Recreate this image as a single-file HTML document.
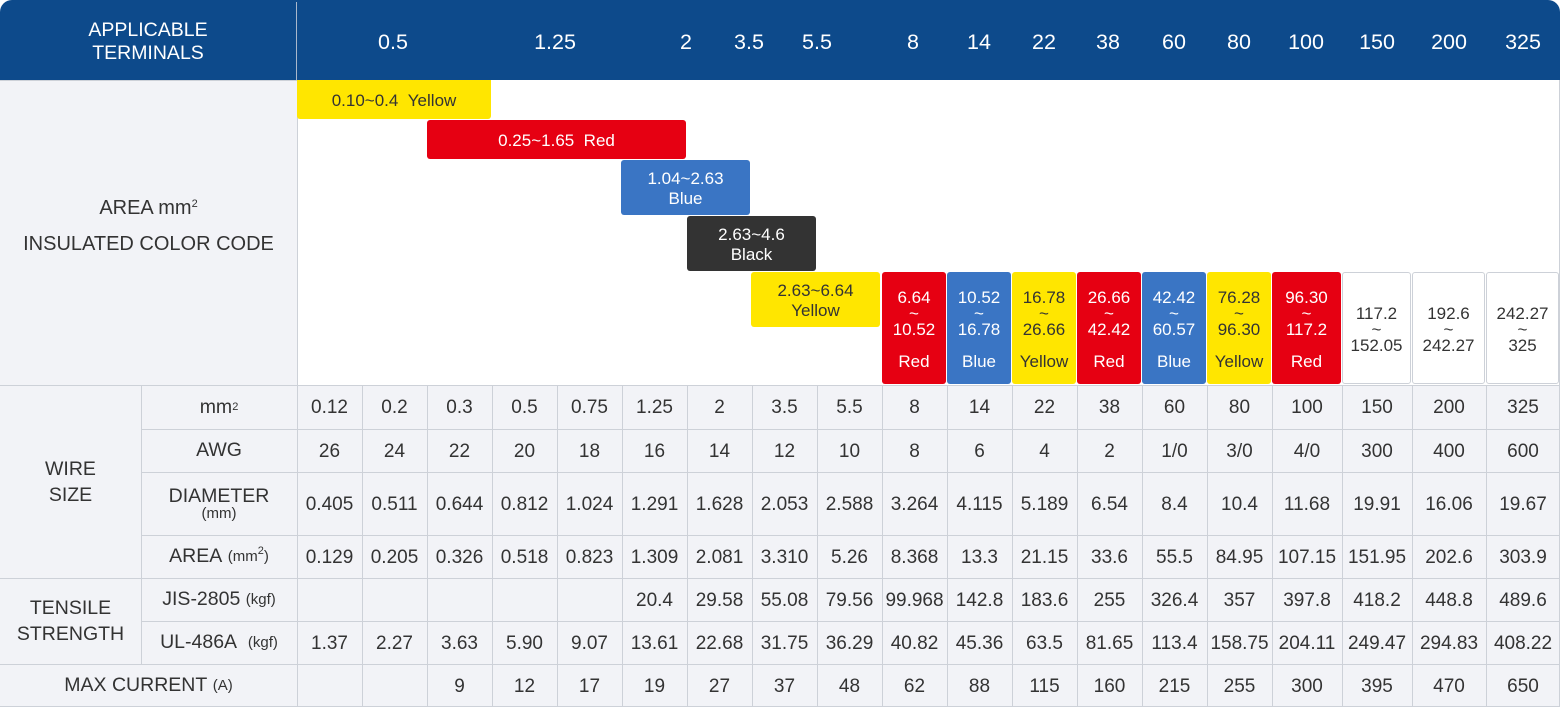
<!DOCTYPE html>
<html><head><meta charset="utf-8"><style>
html,body{margin:0;padding:0;background:#fff;}
#t{position:relative;width:1560px;height:707px;overflow:hidden;font-family:"Liberation Sans",Arial,sans-serif;color:#333;}
.a{position:absolute;box-sizing:border-box;}
.c{display:flex;align-items:center;justify-content:center;text-align:center;}
.hl{position:absolute;background:#cdd1d8;}
.blk{position:absolute;box-sizing:border-box;border-radius:3px;display:flex;flex-direction:column;align-items:center;justify-content:center;text-align:center;font-size:17px;line-height:20px;}
sup{font-size:11px;vertical-align:7px;line-height:0;}
.u{font-size:15px;}
</style></head><body>
<div id="t">
  <div class="a" style="left:0;top:0;width:1560px;height:80px;background:#0d4a8b;border-radius:12px 12px 0 0;"></div>
  <div class="a c" style="left:0;top:2px;width:297px;height:80px;color:#fff;font-size:19.5px;line-height:23px;border-right:1px solid #a9b8cc;">APPLICABLE<br>TERMINALS</div>
  <div class="a" style="left:0;top:80px;width:297px;height:627px;background:#f2f3f7;"></div>
  <div class="a" style="left:297px;top:385px;width:1263px;height:322px;background:#f2f3f7;"></div>
  <div class="a c" style="left:0;top:190px;width:297px;height:72px;font-size:20px;line-height:36px;flex-direction:column;">
    <div>AREA mm<sup>2</sup></div><div>INSULATED COLOR CODE</div></div>
  <div class="a c" style="left:0;top:385px;width:141px;height:193px;font-size:19.5px;line-height:26px;">WIRE<br>SIZE</div>
  <div class="a c" style="left:0;top:578px;width:141px;height:86px;font-size:19.5px;line-height:26px;">TENSILE<br>STRENGTH</div>
  <div class="a c" style="left:0;top:664px;width:297px;height:43px;font-size:19.5px;">MAX CURRENT&nbsp;<span class="u">(A)</span></div>
  <div class="a c" style="left:141px;top:385px;width:156px;height:44px;font-size:19.5px;">mm<sup>2</sup></div>
  <div class="a c" style="left:141px;top:429px;width:156px;height:43px;font-size:19.5px;">AWG</div>
  <div class="a c" style="left:141px;top:472px;width:156px;height:63px;font-size:19.5px;line-height:19px;flex-direction:column;"><div>DIAMETER</div><div class="u" style="line-height:15px">(mm)</div></div>
  <div class="a c" style="left:141px;top:535px;width:156px;height:43px;font-size:19.5px;">AREA&nbsp;<span class="u">(mm<sup>2</sup>)</span></div>
  <div class="a c" style="left:141px;top:578px;width:156px;height:43px;font-size:19.5px;">JIS-2805&nbsp;<span class="u">(kgf)</span></div>
  <div class="a c" style="left:141px;top:621px;width:156px;height:43px;font-size:19.5px;">UL-486A&nbsp;&nbsp;<span class="u">(kgf)</span></div>
</div>
<script>
const headerLabels=["0.5","1.25","2","3.5","5.5","8","14","22","38","60","80","100","150","200","325"];
const headerX=[393,555,686,749,817,913,979,1044,1108,1174,1239,1306,1377,1449,1523];
const mm2=["0.12","0.2","0.3","0.5","0.75","1.25","2","3.5","5.5","8","14","22","38","60","80","100","150","200","325"];
const awg=["26","24","22","20","18","16","14","12","10","8","6","4","2","1/0","3/0","4/0","300","400","600"];
const diameter=["0.405","0.511","0.644","0.812","1.024","1.291","1.628","2.053","2.588","3.264","4.115","5.189","6.54","8.4","10.4","11.68","19.91","16.06","19.67"];
const area=["0.129","0.205","0.326","0.518","0.823","1.309","2.081","3.310","5.26","8.368","13.3","21.15","33.6","55.5","84.95","107.15","151.95","202.6","303.9"];
const jis=["","","","","","20.4","29.58","55.08","79.56","99.968","142.8","183.6","255","326.4","357","397.8","418.2","448.8","489.6"];
const ul=["1.37","2.27","3.63","5.90","9.07","13.61","22.68","31.75","36.29","40.82","45.36","63.5","81.65","113.4","158.75","204.11","249.47","294.83","408.22"];
const maxCurrent=["","","9","12","17","19","27","37","48","62","88","115","160","215","255","300","395","470","650"];
const colEdges=[297,362,427,492,557,622,687,752,817,882,947,1012,1077,1142,1207,1272,1342,1412,1486,1560];
const rowEdges=[385,429,472,535,578,621,664,707];
const T=document.getElementById('t');
function div(cls,css,html){const d=document.createElement('div');d.className=cls;d.style.cssText=css;if(html!==undefined)d.innerHTML=html;T.appendChild(d);return d;}
headerLabels.forEach((l,i)=>{
  const d=div('a c',`left:${headerX[i]-40}px;top:2px;width:80px;height:80px;color:#fff;font-size:21.5px;`,l);
  
  
});
colEdges.forEach((x,i)=>{
  const d=div('hl',`left:${x===1560?1559:x}px;top:385px;width:1px;height:322px;`);
  
  
});
[[141,385,664],[297,80,385],[1559,80,385]].forEach(v=>{
  const d=div('hl',`left:${v[0]}px;top:${v[1]}px;width:1px;height:${v[2]-v[1]}px;`);
  
  
});
[[0,385],[141,429],[141,472],[141,535],[0,578],[141,621],[0,664],[0,706]].forEach(h=>{
  const d=div('hl',`left:${h[0]}px;top:${h[1]}px;width:${1560-h[0]}px;height:1px;`);
  
  
});
div('hl','left:0;top:80px;width:297px;height:1px;');
const rows=[mm2,awg,diameter,area,jis,ul,maxCurrent];
const rowNames=['mm2','awg','diameter','area','jis','ul','max-current'];
rows.forEach((r,ri)=>{
  r.forEach((v,ci)=>{
    const x0=colEdges[ci],x1=colEdges[ci+1],y0=rowEdges[ri],y1=rowEdges[ri+1];
    const d=div('a c',`left:${x0}px;top:${y0+1}px;width:${x1-x0}px;height:${y1-y0}px;font-size:19px;`,v);
    
    
  });
});
const RED='#e60012',BLUE='#3a75c4',YEL='#ffe600',BLK='#333333',WHT='#ffffff';
const blockRanges=["0.10~0.4  Yellow","0.25~1.65  Red","1.04~2.63|Blue","2.63~4.6|Black","2.63~6.64|Yellow"];
const blockBoxes=[[297,491,80,119,YEL],[427,686,120,159,RED],[621,750,160,215,BLUE],[687,816,216,271,BLK],[751,880,272,327,YEL]];
blockRanges.forEach((t,i)=>{
  const b=blockBoxes[i];const dark=(b[4]===YEL);
  const d=div('blk',`left:${b[0]}px;top:${b[2]}px;width:${b[1]-b[0]}px;height:${b[3]-b[2]}px;background:${b[4]};color:${dark?'#333':'#fff'};padding-top:2px;${i===0?'border-radius:0 0 3px 3px;':''}`,t.split('|').map(s=>'<div>'+s.replace(/  /g,'&nbsp;&nbsp;')+'</div>').join(''));
  
  
});
const tallLo=["6.64","10.52","16.78","26.66","42.42","76.28","96.30","117.2","192.6","242.27"];
const tallHi=["10.52","16.78","26.66","42.42","60.57","96.30","117.2","152.05","242.27","325"];
const tallColor=["Red","Blue","Yellow","Red","Blue","Yellow","Red","","",""];
const cmap={Red:RED,Blue:BLUE,Yellow:YEL,"":WHT};
tallLo.forEach((lo,i)=>{
  const x0=colEdges[9+i],x1=colEdges[10+i];
  const c=tallColor[i];const bg=cmap[c];const fg=(c==='Red'||c==='Blue')?'#fff':'#333';
  const border=c===''?'border:1px solid #cdd1d8;':'';
  const html=c?`<div>${lo}</div><div style="line-height:12px">~</div><div>${tallHi[i]}</div><div style="margin-top:12px">${c}</div>`
              :`<div>${lo}</div><div style="line-height:12px">~</div><div>${tallHi[i]}</div>`;
  const d=div('blk',`left:${x0}px;top:272px;width:${x1-x0-1}px;height:112px;background:${bg};color:${fg};padding-top:3px;${border}`,html);
  
  
});
</script>
</body></html>
